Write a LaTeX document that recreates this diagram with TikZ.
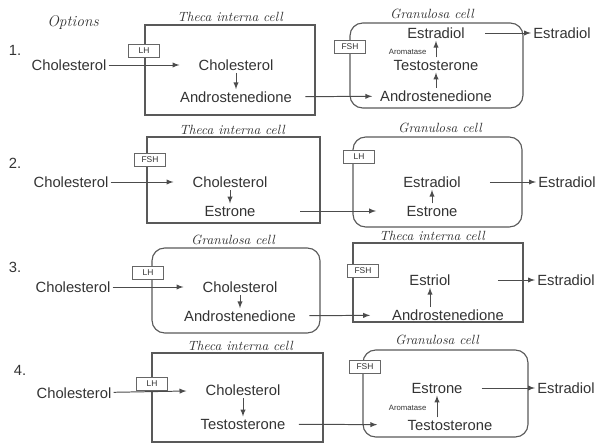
\documentclass[tikz,border=0pt]{standalone}
\usepackage{fontspec}
\setsansfont{Liberation Sans}
\usetikzlibrary{arrows, calc}

\begin{document}
\begin{tikzpicture}[x=0.025cm, y=-0.025cm,
    every node/.style={text=black!80},
    txt/.style={font=\sffamily\fontsize{10.5}{12}\selectfont, inner sep=1.5pt},
    cell/.style={font=\itshape\fontsize{9.5}{11}\selectfont, inner sep=1pt},
    hormone/.style={draw=black!60, fill=white, line width=0.6pt, font=\sffamily\fontsize{6}{7}\selectfont,
        minimum width=22pt, minimum height=9pt, inner sep=1pt},
    enzyme/.style={font=\sffamily\fontsize{5.5}{6}\selectfont, inner sep=1pt},
    thecabox/.style={draw=black!65, line width=0.8pt},
    granbox/.style={draw=black!65, line width=0.8pt, rounded corners=9pt},
    arr/.style={-latex, draw=black!70, line width=0.7pt}]
    \useasboundingbox (0,0) rectangle (605,445);

    \node[cell, font=\itshape\fontsize{11}{12}\selectfont] (opt) at (73,23) {Options};

    \draw[thecabox] (145,25) rectangle (315,115);
    \draw[granbox] (350,23) rectangle (523,108);
    \node[cell] (lab1a) at (230,17) {Theca interna cell};
    \node[cell] (lab1b) at (432,14) {Granulosa cell};
    \node[hormone] (h1a) at (144,51) {LH};
    \node[hormone] (h1b) at (350,47) {FSH};
    \node[txt] (n1) at (15,50) {1.};
    \node[txt] (ch1) at (69,65) {Cholesterol};
    \node[txt] (tc1) at (236,65) {Cholesterol};
    \node[txt] (ta1) at (236,97) {Androstenedione};
    \node[txt] (ge1) at (436,33) {Estradiol};
    \node[txt] (gt1) at (436,65) {Testosterone};
    \node[txt] (ga1) at (436,96) {Androstenedione};
    \node[enzyme, anchor=east] (ar1) at (428,52) {Aromatase};
    \node[txt] (out1) at (562,33) {Estradiol};
    \draw[arr, shorten >=12pt] (ch1) -- (tc1);
    \draw[arr] (tc1) -- (ta1);
    \draw[arr, shorten <=8pt, shorten >=4pt] (ta1) -- (ga1);
    \draw[arr] (ga1) -- (gt1);
    \draw[arr] (gt1) -- (ge1);
    \draw[arr, shorten <=13pt] (ge1) -- (out1);

    \draw[thecabox] (147,137) rectangle (320,223);
    \draw[granbox] (353,137) rectangle (522,227);
    \node[cell] (lab2a) at (232,130) {Theca interna cell};
    \node[cell] (lab2b) at (440,128) {Granulosa cell};
    \node[hormone] (h2a) at (150,160) {FSH};
    \node[hormone] (h2b) at (359,157) {LH};
    \node[txt] (n2) at (15,163) {2.};
    \node[txt] (ch2) at (71,182) {Cholesterol};
    \node[txt] (tc2) at (230,182) {Cholesterol};
    \node[txt] (te2) at (230,211) {Estrone};
    \node[txt] (ge2) at (432,182) {Estradiol};
    \node[txt] (gs2) at (432,211) {Estrone};
    \node[txt] (out2) at (567,182) {Estradiol};
    \draw[arr, shorten >=12pt] (ch2) -- (tc2);
    \draw[arr] (tc2) -- (te2);
    \draw[arr, shorten <=30pt, shorten >=20pt] (te2) -- (gs2);
    \draw[arr] (gs2) -- (ge2);
    \draw[arr, shorten <=19pt] (ge2) -- (out2);

    \draw[granbox] (152,248) rectangle (320,333);
    \draw[thecabox] (353,243) rectangle (523,322);
    \node[cell] (lab3a) at (233,240) {Granulosa cell};
    \node[cell] (lab3b) at (432,236) {Theca interna cell};
    \node[hormone] (h3a) at (148,273) {LH};
    \node[hormone] (h3b) at (363,271) {FSH};
    \node[txt] (n3) at (15,267) {3.};
    \node[txt] (ch3) at (73,287) {Cholesterol};
    \node[txt] (gc3) at (240,287) {Cholesterol};
    \node[txt] (ga3) at (240,316) {Androstenedione};
    \node[txt] (te3) at (430,280) {Estriol};
    \node[txt] (ta3) at (448,315) {Androstenedione};
    \node[txt] (out3) at (566,280) {Estradiol};
    \draw[arr, shorten >=12pt] (ch3) -- (gc3);
    \draw[arr] (gc3) -- (ga3);
    \draw[arr, shorten <=8pt, shorten >=14pt] (ga3) -- (ta3);
    \draw[arr] (ta3.north -| te3.south) -- (te3.south);
    \draw[arr, shorten <=32pt] (te3) -- (out3);

    \draw[thecabox] (152,353) rectangle (323,442);
    \draw[granbox] (363,350) rectangle (528,437);
    \node[cell] (lab4a) at (240,346) {Theca interna cell};
    \node[cell] (lab4b) at (437,340) {Granulosa cell};
    \node[hormone] (h4a) at (152,384) {LH};
    \node[hormone] (h4b) at (365,367) {FSH};
    \node[txt] (n4) at (20,370) {4.};
    \node[txt] (ch4) at (74,393) {Cholesterol};
    \node[txt] (tc4) at (243,390) {Cholesterol};
    \node[txt] (tt4) at (243,424) {Testosterone};
    \node[txt] (ge4) at (437,388) {Estrone};
    \node[txt] (gt4) at (450,425) {Testosterone};
    \node[enzyme, anchor=east] (ar4) at (428,408) {Aromatase};
    \node[txt] (out4) at (566,388) {Estradiol};
    \draw[arr, shorten >=12pt] (ch4) -- (tc4);
    \draw[arr] (tc4) -- (tt4);
    \draw[arr, shorten <=8pt, shorten >=20pt] (tt4) -- (gt4);
    \draw[arr] (gt4.north -| ge4.south) -- (ge4.south);
    \draw[arr, shorten <=12pt] (ge4) -- (out4);
\end{tikzpicture}
\end{document}
